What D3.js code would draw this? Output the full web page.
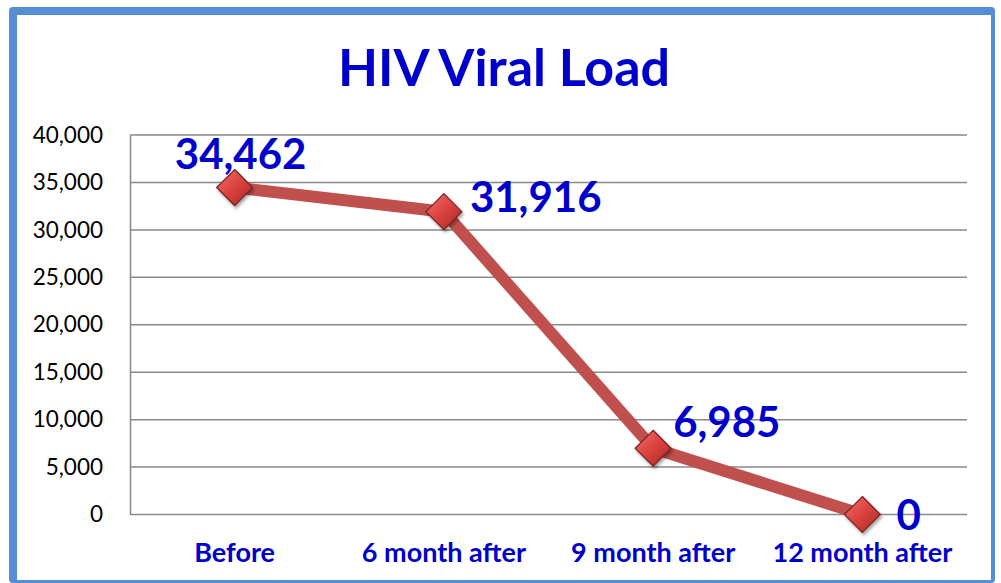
<!DOCTYPE html>
<html>
<head>
<meta charset="utf-8">
<script src="https://cdn.jsdelivr.net/npm/d3@7"></script>
<style>
  html, body { margin: 0; padding: 0; background: #ffffff; }
  svg { display: block; }
</style>
</head>
<body>
<svg id="chart" width="1001" height="583"></svg>
<script>
// ---- data ----
const title = "HIV Viral Load";
const categories = ["Before", "6 month after", "9 month after", "12 month after"];
const values = [34462, 31916, 6985, 0];
const yTicks = [0, 5000, 10000, 15000, 20000, 25000, 30000, 35000, 40000];
const yDomain = [0, 40000];

// label placement offsets (style config, relative to marker)
const labelOffsets = [
  { dx: 6, dy: -19, anchor: "middle" },
  { dx: 26, dy: 0, anchor: "start" },
  { dx: 20, dy: -11, anchor: "start" },
  { dx: 34, dy: 15, anchor: "start" }
];

const svg = d3.select("#chart");

// frame
svg.append("rect").attr("x", 9).attr("y", 7).attr("width", 986).attr("height", 576)
  .attr("rx", 4).attr("fill", "#558ED5");
svg.append("rect").attr("x", 17).attr("y", 15).attr("width", 974).attr("height", 565)
  .attr("fill", "#ffffff");

const defs = svg.append("defs");
const grad = defs.append("linearGradient").attr("id", "mk").attr("x1", "0").attr("y1", "0").attr("x2", "1").attr("y2", "1");
grad.append("stop").attr("offset", "0%").attr("stop-color", "#F0706A");
grad.append("stop").attr("offset", "50%").attr("stop-color", "#D9423E");
grad.append("stop").attr("offset", "100%").attr("stop-color", "#A82824");
const filt = defs.append("filter").attr("id", "sh").attr("x", "-50%").attr("y", "-50%").attr("width", "200%").attr("height", "200%");
filt.append("feDropShadow").attr("dx", 1.5).attr("dy", 2.5).attr("stdDeviation", 1.8).attr("flood-color", "#000").attr("flood-opacity", 0.35);

const plot = { left: 130, right: 967, top: 135, bottom: 514.5 };

const x = d3.scaleBand().domain(categories).range([plot.left, plot.right]);
const y = d3.scaleLinear().domain(yDomain).range([plot.bottom, plot.top]);

// title
svg.append("text").attr("x", 504).attr("y", 86)
  .attr("text-anchor", "middle")
  .attr("font-family", "Lato, sans-serif").attr("font-weight", "bold")
  .attr("font-size", 52).attr("fill", "#0000CC")
  .text(title);

// gridlines
svg.append("g").selectAll("line").data(yTicks).join("line")
  .attr("x1", plot.left).attr("x2", plot.right)
  .attr("y1", d => y(d)).attr("y2", d => y(d))
  .attr("stroke", "#898989").attr("stroke-width", 1.5);

// y axis
const yAxis = svg.append("g").attr("transform", `translate(${plot.left},0)`)
  .call(d3.axisLeft(y).tickValues(yTicks).tickFormat(d3.format(",")).tickSize(0).tickPadding(27));
yAxis.select(".domain").attr("stroke", "#898989").attr("stroke-width", 1.5);
yAxis.selectAll("text").attr("font-family", "Lato, sans-serif").attr("font-size", 22.5).attr("fill", "#000");

// x axis labels
const xAxis = svg.append("g").attr("transform", `translate(0,${plot.bottom})`)
  .call(d3.axisBottom(x).tickSize(0).tickPadding(28));
xAxis.select(".domain").remove();
xAxis.selectAll("text").attr("font-family", "Lato, sans-serif").attr("font-weight", "bold")
  .attr("font-size", 27).attr("fill", "#0000CC");

// line
const pts = categories.map((c, i) => ({ c, v: values[i], i }));
const line = d3.line().x(d => x(d.c) + x.bandwidth() / 2).y(d => y(d.v));
svg.append("path").datum(pts).attr("d", line)
  .attr("fill", "none").attr("stroke", "#C0504D").attr("stroke-width", 12)
  .attr("stroke-linejoin", "round");

// markers
const r = 18;
svg.append("g").selectAll("path").data(pts).join("path")
  .attr("d", `M0,${-r}L${r},0L0,${r}L${-r},0Z`)
  .attr("transform", d => `translate(${x(d.c) + x.bandwidth() / 2},${y(d.v)})`)
  .attr("fill", "url(#mk)").attr("stroke", "#7A2020").attr("stroke-width", 1.2)
  .attr("filter", "url(#sh)");

// data labels
svg.append("g").selectAll("text").data(pts).join("text")
  .attr("x", d => x(d.c) + x.bandwidth() / 2 + labelOffsets[d.i].dx)
  .attr("y", d => y(d.v) + labelOffsets[d.i].dy)
  .attr("text-anchor", d => labelOffsets[d.i].anchor)
  .attr("font-family", "Lato, sans-serif").attr("font-weight", "bold")
  .attr("font-size", 42).attr("fill", "#0000CC")
  .text(d => d3.format(",")(d.v));
</script>
</body>
</html>
